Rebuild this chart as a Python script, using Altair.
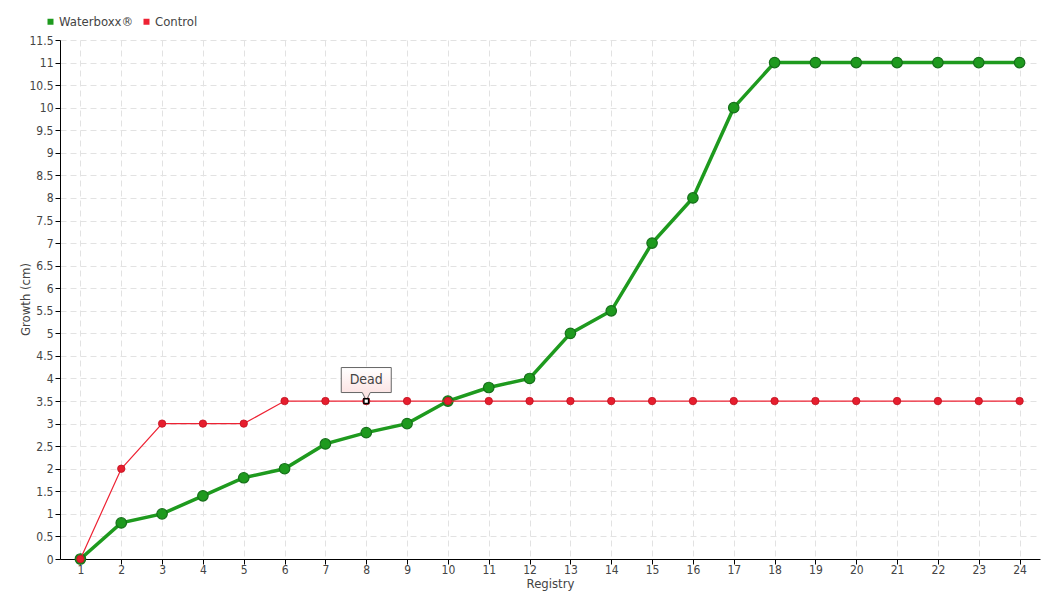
import altair as alt
import pandas as pd

registry = list(range(1, 25))
waterboxx = [0, 0.8, 1.0, 1.4, 1.8, 2.0, 2.55, 2.8, 3.0, 3.5, 3.8, 4.0, 5.0, 5.5, 7.0, 8.0, 10.0,
             11, 11, 11, 11, 11, 11, 11]
control = [0, 2, 3, 3, 3, 3.5, 3.5, 3.5, 3.5, 3.5, 3.5, 3.5, 3.5, 3.5, 3.5, 3.5, 3.5,
           3.5, 3.5, 3.5, 3.5, 3.5, 3.5, 3.5]
series_names = ["Waterboxx®", "Control"]
series_colors = ["#1e9a1e", "#ee2233"]
y_ticks = [i * 0.5 for i in range(24)]
note_registry = [8]
note_value = [3.5]
note_text = ["Dead"]

df = pd.DataFrame({
    "Registry": registry * 2,
    "Growth": waterboxx + control,
    "Series": [series_names[0]] * 24 + [series_names[1]] * 24,
})
note = pd.DataFrame({"Registry": note_registry, "Growth": note_value, "Text": note_text})

FONT = "DejaVu Sans Condensed, Roboto Condensed, Roboto, sans-serif"

x = alt.X("Registry:O", title="Registry",
          scale=alt.Scale(type="point", padding=0.5),
          axis=alt.Axis(labelAngle=0, grid=True, gridDash=[6, 4], gridColor="#e2e2e2",
                        domainColor="#000", tickColor="#000", tickSize=5, labelFontSize=12,
                        titlePadding=2, labelPadding=0, labelOverlap=False))
y = alt.Y("Growth:Q", title="Growth (cm)",
          scale=alt.Scale(domain=[0, 11.5], nice=False, zero=True),
          axis=alt.Axis(values=y_ticks, tickCount=40, grid=True, gridDash=[6, 4],
                        gridColor="#e2e2e2",
                        domainColor="#000", tickColor="#000", tickSize=5,
                        labelOverlap=False, labelPadding=2, labelFontSize=12,
                        labelExpr="format(datum.value, '~g')", titleX=-28, titleY=259))
color = alt.Color("Series:N", scale=alt.Scale(domain=series_names, range=series_colors),
                  legend=alt.Legend(title=None, orient="none", legendX=-16, legendY=-25,
                                    direction="horizontal", symbolType="square",
                                    symbolSize=36, symbolStrokeWidth=0,
                                    labelFontSize=13, labelColor="#444", labelFont=FONT,
                                    columnPadding=6, symbolOffset=0, labelOffset=2))

base = alt.Chart(df).encode(x=x, y=y, color=color)
green = base.transform_filter(alt.datum.Series == series_names[0])
red = base.transform_filter(alt.datum.Series == series_names[1])

green_line = green.mark_line(strokeWidth=3.5, color="#1e9a1e")
green_pts = green.mark_point(filled=True, size=110, opacity=1, stroke="#16701a",
                             strokeWidth=1.2, fill="#1e9a1e")
red_line = red.mark_line(strokeWidth=1.2, color="#ff5566")
red_pts = red.mark_point(filled=True, size=55, opacity=1, fill="#e61e2e", stroke="#c01020",
                         strokeWidth=0.8)

nb = alt.Chart(note).encode(x=alt.X("Registry:O"), y=alt.Y("Growth:Q"))
callout = nb.mark_point(
    shape="M-1,-0.5H1V0.5H0.16L0,0.82L-0.16,0.5H-1Z",
    size=2500, filled=True, opacity=1, strokeWidth=1, stroke="#666",
    fill={"x1": 0, "y1": 0, "x2": 0, "y2": 1, "gradient": "linear",
          "stops": [{"offset": 0, "color": "#ffffff"}, {"offset": 1, "color": "#fbdcdc"}]},
    yOffset=-21)
note_txt = nb.mark_text(fontSize=14, font=FONT, color="#444", yOffset=-21).encode(text="Text:N")
marker = nb.mark_point(shape="square", size=22, filled=True, fill="#fff", stroke="#000",
                       strokeWidth=1.5, opacity=1)

chart = alt.layer(green_line, green_pts, red_line, red_pts, callout, note_txt, marker).properties(
    width=980, height=519,
    autosize=alt.AutoSizeParams(type="none"),
    padding={"left": 52, "top": 32, "right": 10, "bottom": 40},
).configure_axis(
    labelFont=FONT, titleFont=FONT, labelFontSize=13, titleFontSize=13,
    labelColor="#444", titleColor="#444", titleFontWeight="normal",
).configure_view(stroke=None)

chart.save("out.html", embed_options={"renderer": "svg", "actions": False})
